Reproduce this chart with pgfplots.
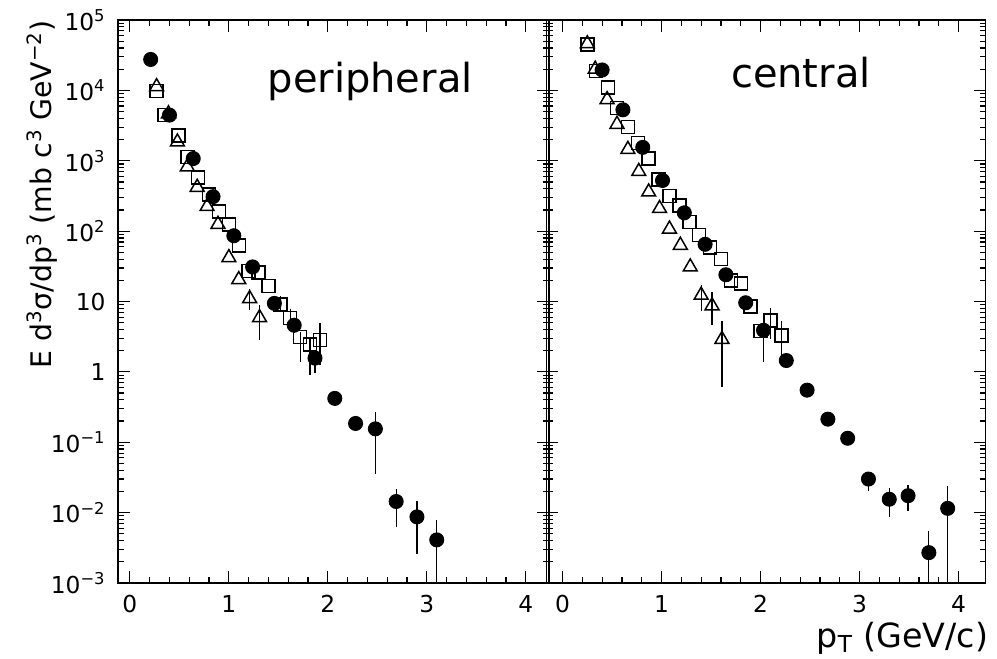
\documentclass[border=0pt]{standalone}
\usepackage{fontspec}
\setmainfont{DejaVu Sans}
\usepackage{pgfplots}
\pgfplotsset{compat=1.18}

\pgfplotsset{
  spectrumpanel/.style={
    ymin=1e-3, ymax=1e5,
    scale only axis, height=337.8pt,
    axis line style={line width=0.9pt},
    tick align=inside,
    major tick length=7pt, minor tick length=3.6pt,
    tick style={black, line width=0.7pt},
    xtick={0,1,2,3,4}, xticklabels={0,1,2,3,4},
    minor x tick num=4,
    ytick={1e-3,1e-2,1e-1,1,10,100,1000,1e4,1e5},
    minor ytick={2e-3,3e-3,4e-3,5e-3,6e-3,7e-3,8e-3,9e-3,
      2e-2,3e-2,4e-2,5e-2,6e-2,7e-2,8e-2,9e-2,
      0.2,0.3,0.4,0.5,0.6,0.7,0.8,0.9,
      2,3,4,5,6,7,8,9, 20,30,40,50,60,70,80,90,
      200,300,400,500,600,700,800,900,
      2000,3000,4000,5000,6000,7000,8000,9000,
      2e4,3e4,4e4,5e4,6e4,7e4,8e4,9e4},
    tick label style={font=\fontsize{14}{14}\selectfont},
    xticklabel style={yshift=-4pt},
    yticklabel style={xshift=-4pt},
    clip=true,
  },
  pcirc/.style={only marks, mark=*, mark size=4.2pt, mark options={fill=black, draw=black, line width=0.6pt},
    error bars/y dir=both, error bars/y explicit, error bars/error mark=none,
    error bars/error bar style={line width=0.7pt, black}},
  psq/.style={only marks, mark=square, mark size=3.9pt, mark options={draw=black, line width=0.9pt},
    error bars/y dir=both, error bars/y explicit, error bars/error mark=none,
    error bars/error bar style={line width=0.7pt, black}},
  ptri/.style={only marks, mark=triangle, mark size=4.8pt, mark options={draw=black, line width=0.9pt},
    error bars/y dir=both, error bars/y explicit, error bars/error mark=none,
    error bars/error bar style={line width=0.7pt, black}},
}

\begin{document}
\begin{tikzpicture}[x=0.6pt,y=0.6pt]
\useasboundingbox (-118,-75) rectangle (879,583);

% peripheral
\begin{semilogyaxis}[spectrumpanel, name=left, at={(0,0)}, anchor=south west,
  width=258.6pt, xmin=-0.12, xmax=4.234,
  yticklabels={10\textsuperscript{−3},10\textsuperscript{−2},10\textsuperscript{−1},1,10,10\textsuperscript{2},10\textsuperscript{3},10\textsuperscript{4},10\textsuperscript{5}},
]
\addplot[psq] coordinates {
  (0.27,9800) (0.35,4500) (0.49,2280) (0.58,1130) (0.69,575) (0.80,330)
  (0.90,190) (1.00,125) (1.10,63) (1.20,27) (1.30,26) (1.40,16.5)
  (1.52,9.0) += (0,3) -= (0,2)
  (1.62,5.8) += (0,2) -= (0,1.5)
  (1.72,3.15) += (0,0.5) -= (0,1.75)
  (1.82,2.45) += (0,0.5) -= (0,1.55)
  (1.92,2.85) += (0,2.15) -= (0,1.6)
};
\addplot[ptri] coordinates {
  (0.27,11300) (0.39,4650) (0.48,1850) (0.58,820) (0.68,420) (0.78,224)
  (0.89,125) (1.00,42) (1.10,20.5)
  (1.21,11) += (0,4) -= (0,3.5)
  (1.31,5.9) += (0,3) -= (0,3.1)
};
\addplot[pcirc] coordinates {
  (0.21,27500) (0.40,4450) (0.64,1075) (0.84,309) (1.05,86) (1.24,31)
  (1.46,9.4) (1.66,4.6) += (0,1) -= (0,1)
  (1.87,1.57) += (0,0.3) -= (0,0.6)
  (2.07,0.42) (2.28,0.185)
  (2.48,0.155) += (0,0.115) -= (0,0.12)
  (2.69,0.0144) += (0,0.007) -= (0,0.0081)
  (2.90,0.0087) += (0,0.0061) -= (0,0.0061)
  (3.10,0.0041) += (0,0.0038) -= (0,0.00406)
};
\node[anchor=base, font=\fontsize{24}{24}\selectfont] at (rel axis cs:0.585,0.872) {peripheral};
\end{semilogyaxis}

% central
\begin{semilogyaxis}[spectrumpanel, name=right, at={(433,0)}, anchor=south west,
  width=263.4pt, xmin=-0.16, xmax=4.274,
  yticklabels={},
]
\addplot[psq] coordinates {
  (0.25,45000) (0.34,19000) (0.46,11000) (0.55,5600) (0.66,3000) (0.76,1780)
  (0.87,1070) (0.97,540) (1.08,316) (1.18,230) (1.28,135) (1.38,88)
  (1.49,59) (1.60,40) (1.70,20) (1.80,18) (1.90,8.5) (2.00,3.8)
  (2.10,5.4) += (0,2.6) -= (0,2.5)
  (2.21,3.3) += (0,1.9) -= (0,1.7)
};
\addplot[ptri] coordinates {
  (0.25,46000) (0.33,20000) (0.45,7400) (0.55,3300) (0.66,1450) (0.77,705)
  (0.87,360) (0.98,210) (1.08,107) (1.19,63) (1.29,31)
  (1.40,12.3) += (0,5) -= (0,5)
  (1.51,8.7) += (0,5) -= (0,4.1)
  (1.61,2.9) += (0,2.3) -= (0,2.3)
};
\addplot[pcirc] coordinates {
  (0.40,19500) (0.61,5300) (0.81,1550) (1.01,525) (1.23,182) (1.44,65)
  (1.65,24) (1.85,9.6)
  (2.03,3.9) += (0,2.3) -= (0,2.5)
  (2.26,1.45) (2.47,0.55) (2.68,0.213) (2.88,0.114)
  (3.09,0.030) += (0,0.008) -= (0,0.010)
  (3.30,0.0155) += (0,0.0069) -= (0,0.0068)
  (3.49,0.0174) += (0,0.0071) -= (0,0.0067)
  (3.70,0.0027) += (0,0.0027) -= (0,0.00267)
  (3.89,0.0115) += (0,0.0125) -= (0,0.01138)
};
\node[anchor=base, font=\fontsize{24}{24}\selectfont] at (rel axis cs:0.579,0.881) {central};
\end{semilogyaxis}

% axis titles
\node[rotate=90, anchor=center, font=\fontsize{17}{17}\selectfont]
  at ([xshift=-45.6pt, yshift=64.2pt]left.west)
  {E d\textsuperscript{3}σ/dp\textsuperscript{3} (mb c\textsuperscript{3} GeV\textsuperscript{−2})};
\node[anchor=base east, font=\fontsize{20}{20}\selectfont]
  at ([xshift=5pt, yshift=-38.4pt]right.south east) {p\textsubscript{T} (GeV/c)};
\end{tikzpicture}
\end{document}
